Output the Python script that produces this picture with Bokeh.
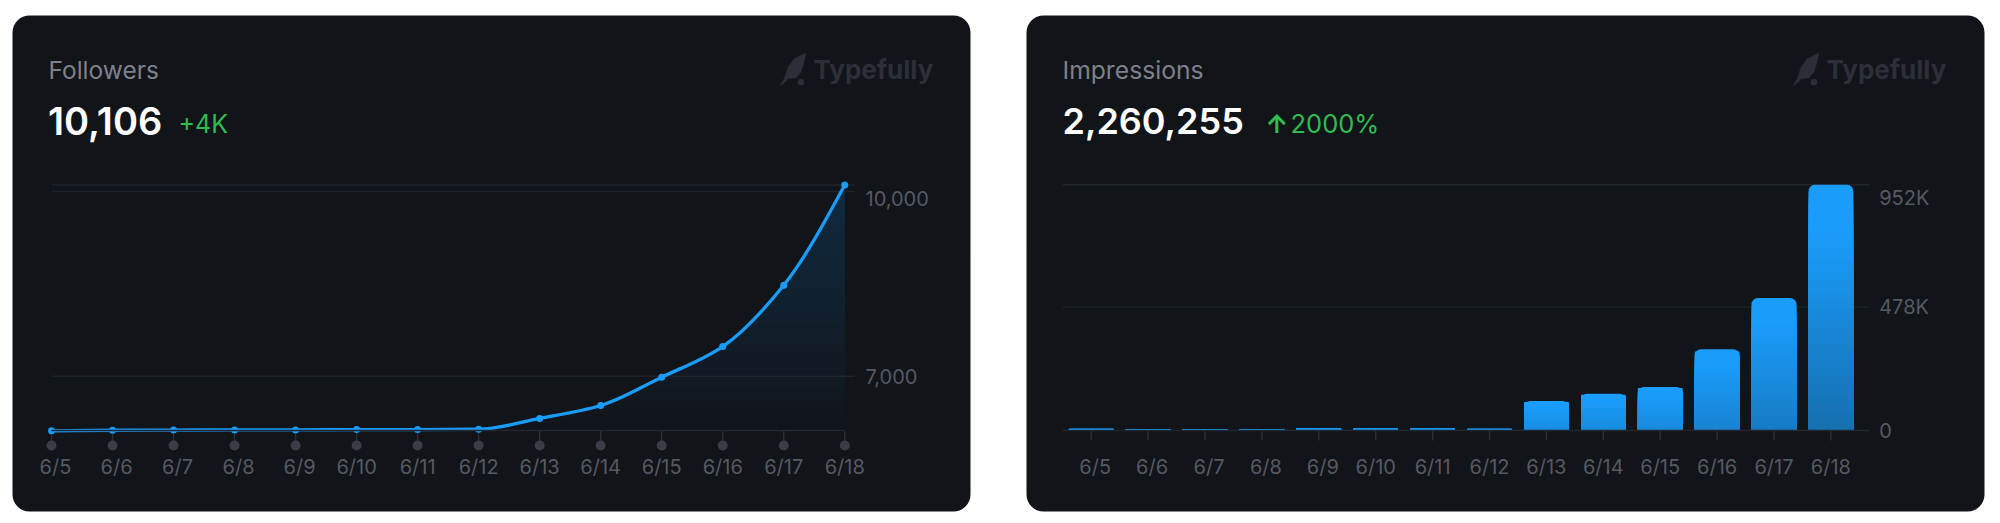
from bokeh.plotting import figure
from bokeh.layouts import row
from bokeh.models import BoxAnnotation, FixedTicker, Label, Range1d
from bokeh.embed import file_html
from bokeh.resources import INLINE
import numpy as np

dates = ["6/5","6/6","6/7","6/8","6/9","6/10","6/11","6/12","6/13","6/14","6/15","6/16","6/17","6/18"]
followers = [6113,6122,6125,6128,6128,6133,6133,6138,6313,6524,6984,7482,8478,10106]
impressions = [7,6,5,5,9,8,8,7,114,142,169,315,513,952]   # thousands
follower_ticks = [10000,7000]
follower_tick_labels = ["10,000","7,000"]
impression_ticks = [952,478,0]
impression_tick_labels = ["952K","478K","0"]

BG="#111419"; BLUE="#1a9cfb"; GRID="#1f232b"; LABEL="#565962"; LOGO="#2c2f38"; GREEN="#2ebd4e"; TITLE="#7d818c"
FONT="Inter"
H=520; W1=1000; W2=990

def lerp(c0,c1,t):
    a=[int(c0[i:i+2],16) for i in (1,3,5)]; b=[int(c1[i:i+2],16) for i in (1,3,5)]
    return "#%02x%02x%02x"%tuple(round(a[i]+(b[i]-a[i])*t) for i in range(3))

def make_fig(page_x0, W, xpx, ypx_inv):
    """xpx: index->page px ; ypx_inv: page px->value"""
    x_of=lambda px:(px-xpx[0])/xpx[1]
    p=figure(width=W,height=H,output_backend="svg",toolbar_location=None,
             x_range=Range1d(x_of(page_x0),x_of(page_x0+W)),
             y_range=Range1d(ypx_inv(H),ypx_inv(0)),
             y_axis_location="right",min_border=0,min_border_left=0,min_border_right=0,
             min_border_top=0,min_border_bottom=0,
             background_fill_color="white",border_fill_color="white",outline_line_color=None)
    p.grid.visible=False
    return p,x_of

def add_panel(p,x_of,yv,left,right):
    p.add_layout(BoxAnnotation(left=x_of(left),right=x_of(right),bottom=yv(511),top=yv(15),
        fill_color=BG,fill_alpha=1,line_color=None,border_radius=17,level="underlay"))

def add_text(p,x_of,yv,px,py,text,size,color,style="normal",font=FONT):
    p.add_layout(Label(x=x_of(px),y=yv(py),text=text,text_font=font,text_font_size=f"{size}px",
        text_color=color,text_baseline="alphabetic",text_align="left",text_font_style=style))

FEATHER=[(115,158),(100,165),(80,175),(62,200),(50,235),(38,255),(45,252),(62,235),(85,232),(100,215),(108,190)]
def add_logo(p,x_of,yv,dx):
    xs=[x_of(1780+a/3-dx) for a,b in FEATHER]; ys=[yv(b/3) for a,b in FEATHER]
    p.patch(xs,ys,fill_color=LOGO,line_color=LOGO,line_width=0.5)
    p.scatter([x_of(1780+100/3-dx)],[yv(245/3)],size=6.5,fill_color=LOGO,line_color=None)
    add_text(p,x_of,yv,1826-dx,69,"Typefully",26,LOGO,"bold")

def style_axes(p,yfix,xfix,x_bounds,xticks,xover,yticks,yover):
    ax=p.xaxis[0]
    ax.fixed_location=yfix; ax.ticker=FixedTicker(ticks=xticks); ax.major_label_overrides=xover
    ax.bounds=x_bounds; ax.axis_line_color="#23272f"; ax.axis_line_width=1.4
    ax.major_tick_line_color=None; ax.minor_tick_line_color=None
    ax.major_label_text_font=FONT; ax.major_label_text_font_size="20px"; ax.major_label_text_color=LABEL
    ay=p.yaxis[0]
    ay.fixed_location=xfix; ay.ticker=FixedTicker(ticks=yticks); ay.major_label_overrides=yover
    ay.axis_line_color=None; ay.major_tick_line_color=None; ay.minor_tick_line_color=None
    ay.major_label_text_font=FONT; ay.major_label_text_font_size="20px"; ay.major_label_text_color=LABEL
    ay.major_label_standoff=5

def x_label_ticks(spacing):
    ticks=[];over={}
    for i,d in enumerate(dates):
        t=round(i+(4/spacing if len(d)==3 else 0),4)
        ticks.append(t);over[t]=d
    return ticks,over

# ------------ Followers panel
XA=(51.0,61.02)
YAinv=lambda py:7000-(py-375.7)/0.06156
p1,xa=make_fig(0,W1,XA,YAinv)
add_panel(p1,xa,YAinv,12,970)
add_text(p1,xa,YAinv,48,69,"Followers",24.5,TITLE)
add_text(p1,xa,YAinv,47.5,120.5,"10,106",38,"#ffffff","normal","Inter SemiBold")
add_text(p1,xa,YAinv,178,123,"+4K",25,GREEN)
add_logo(p1,xa,YAinv,1013)

# monotone cubic through the data
xs=np.arange(len(followers),dtype=float); ys=np.array(followers,dtype=float)
sl=np.diff(ys)
m=np.zeros_like(ys)
for i in range(1,len(ys)-1):
    m[i]=0 if sl[i-1]*sl[i]<=0 else 2*sl[i-1]*sl[i]/(sl[i-1]+sl[i])
m[0]=sl[0]; m[-1]=(3*sl[-1]-m[-2])/2

tt=np.linspace(0,1,41)
cx=[];cy=[]
for i in range(len(ys)-1):
    h00=2*tt**3-3*tt**2+1;h10=tt**3-2*tt**2+tt;h01=-2*tt**3+3*tt**2;h11=tt**3-tt**2
    cx.extend(i+tt); cy.extend(h00*ys[i]+h10*m[i]+h01*ys[i+1]+h11*m[i+1])
cx=np.array(cx);cy=np.array(cy)
base=min(followers)
top=max(followers)
N=44
for k in range(N,0,-1):
    lev=base+(top-base)*k/N
    p1.varea(cx,np.full_like(cy,base),np.minimum(cy,lev),fill_color=lerp(BG,"#102b40",k/N),fill_alpha=1)

gx0=xa(51.7);gx1=xa(854)
p1.segment([gx0]*3,[top]+follower_ticks,[gx1]*3,[top]+follower_ticks,line_color=GRID,line_width=1.4)
dot_y=YAinv(445)
p1.segment(xs,[base]*14,xs,[dot_y]*14,line_color="#2c2f36",line_width=1.4)
p1.scatter(xs,[dot_y]*14,size=10,fill_color="#3a3d46",line_color=None)
p1.bezier(xs[:-1],ys[:-1],xs[1:],ys[1:],xs[:-1]+1/3,ys[:-1]+m[:-1]/3,xs[1:]-1/3,ys[1:]-m[1:]/3,
          line_color=BLUE,line_width=3.3)
p1.scatter(xs,ys,size=7,fill_color=BLUE,line_color=None)
t,o=x_label_ticks(XA[1])
yt=[round(YAinv(198.3),2),follower_ticks[1]]
style_axes(p1,base,xa(854),(0,13),t,o,yt,{yt[0]:follower_tick_labels[0],yt[1]:follower_tick_labels[1]})
p1.xaxis[0].major_label_standoff=18

# ------------ Impressions panel
XB=(1090.7,56.9)
YBinv=lambda py:(430-py)/0.2581
p2,xb=make_fig(1000,W2,XB,YBinv)
add_panel(p2,xb,YBinv,1026,1984)
add_text(p2,xb,YBinv,1062,69,"Impressions",24.7,TITLE)
add_text(p2,xb,YBinv,1062,120.5,"2,260,255",36,"#ffffff","normal","Inter SemiBold")
add_text(p2,xb,YBinv,1265,123,"\u2191",25,GREEN,"bold")
add_text(p2,xb,YBinv,1290,123,"2000%",25.5,GREEN)
add_logo(p2,xb,YBinv,0)
gx0=xb(1062);gx1=xb(1868.7)
p2.segment([gx0]*2,impression_ticks[:2],[gx1]*2,impression_ticks[:2],line_color=GRID,line_width=1.4)
xi=np.arange(len(impressions),dtype=float)
tick_y=YBinv(440)
p2.segment(xi,[0]*14,xi,[tick_y]*14,line_color="#2c2f36",line_width=1.4)
bw=44.6/XB[1]
p2.vbar(xi,bw,impressions,0,fill_color="#1a9cfb",line_color=None,border_radius=(6,6,0,0))
M=36
for k in range(1,M+1):
    f=1-k/M            # share of bar height under this layer's top
    tops=[];cols=[]
    for v in impressions:
        tops.append(v*f)
        bot=lerp("#1a9cfb","#166fae",(v/max(impressions))**0.5)
        tl=max(0.0,(k/M-0.18)/0.82)
        cols.append(lerp("#1a9cfb",bot,tl))
    if f>0:
        p2.vbar(xi,bw,tops,0,fill_color=cols,line_color=None)
t,o=x_label_ticks(XB[1])
yt=[round(YBinv(198),2),impression_ticks[1],impression_ticks[2]]
style_axes(p2,0,xb(1868.7),(-0.5,14.0),t,o,yt,{yt[0]:impression_tick_labels[0],yt[1]:impression_tick_labels[1],yt[2]:impression_tick_labels[2]})
p2.xaxis[0].bounds=(xb(1062),xb(1868.7))
p2.xaxis[0].major_label_standoff=18
p2.yaxis[0].major_label_standoff=4

layout=row(p1,p2,spacing=0)
open("out.html","w").write(file_html(layout,INLINE))
